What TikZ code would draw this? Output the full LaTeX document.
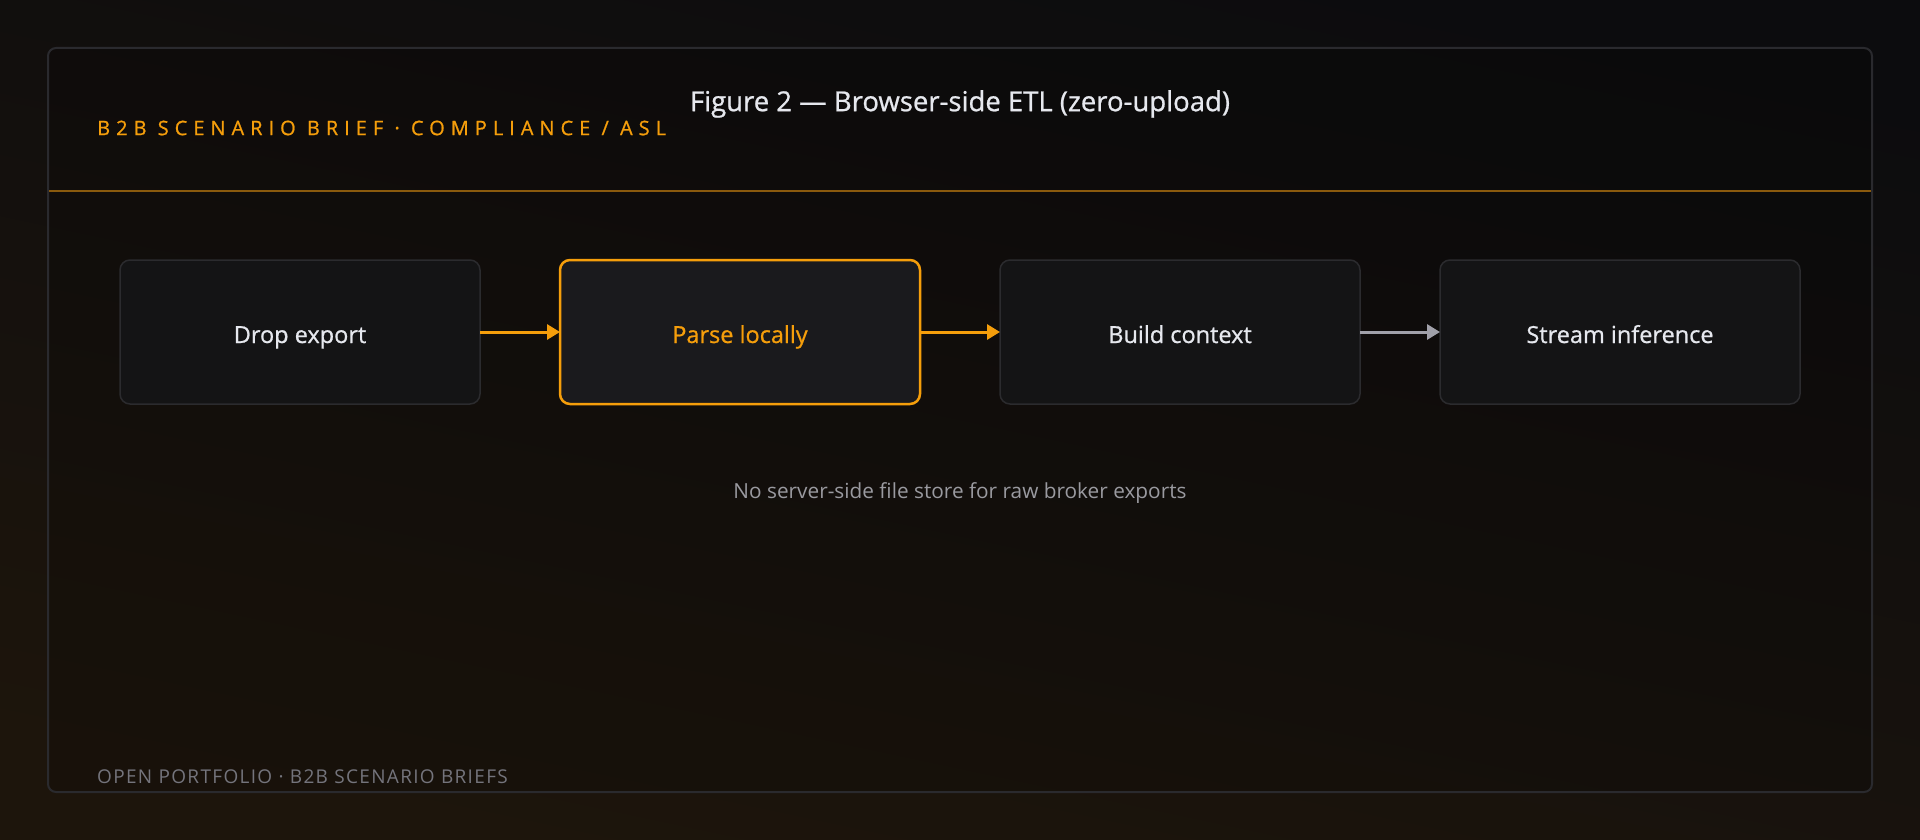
\documentclass[tikz,border=0pt]{standalone}
\usepackage{fontspec}
\setmainfont{Open Sans}
\newfontfamily\semifont[FakeBold=0.8]{Open Sans}
\newfontfamily\trackedfont[LetterSpace=30, FakeBold=0.8]{Open Sans}
\newfontfamily\footfont[LetterSpace=7]{Open Sans}
\usetikzlibrary{arrows.meta, positioning, shadings}
\definecolor{bgTop}{HTML}{0C0C0E}
\definecolor{bgBot}{HTML}{1D150C}
\definecolor{frameLine}{HTML}{2A2A2E}
\definecolor{accent}{HTML}{F59E0B}
\definecolor{sepLine}{HTML}{8A5A0E}
\definecolor{boxFill}{HTML}{141415}
\definecolor{hotFill}{HTML}{1A1A1D}
\definecolor{boxLine}{HTML}{2B2B2E}
\definecolor{labelText}{HTML}{E6E8EE}
\definecolor{arrowGrey}{HTML}{A1A1AA}
\definecolor{noteText}{HTML}{9A9AA0}
\definecolor{footText}{HTML}{74747C}

\begin{document}
\begin{tikzpicture}[x=1pt, y=-1pt,
  stage/.style={draw=boxLine, line width=1.5pt, fill=boxFill, rounded corners=10pt,
    minimum width=\boxW pt, minimum height=\boxH pt, inner sep=0pt, outer sep=0pt,
    text height=22pt, text depth=0pt,
    text=labelText, font=\semifont\fontsize{23.5}{27}\selectfont},
  hot/.style={draw=accent, line width=2.5pt, fill=hotFill, text=accent},
  flow/.style={line width=3pt, -{Triangle[length=13pt, width=15pt]}}]
\pgfmathsetmacro{\boxW}{360}
\pgfmathsetmacro{\boxH}{144}
\pgfmathsetmacro{\boxGap}{80}

% Draw background and frame
\useasboundingbox (0,0) rectangle (1920,840);
\shade[top color=bgTop, bottom color=bgBot, shading angle=-12] (0,0) rectangle (1920,840);
\draw[frameLine, line width=2pt, rounded corners=8pt, fill=black, fill opacity=0.15] (48,48) rectangle (1872,792);
\draw[sepLine, line width=1.5pt] (49,191) -- (1871,191);

% Header
\node[anchor=west, inner sep=0pt, text=accent, font=\trackedfont\fontsize{20}{24}\selectfont] (brief) at (97,128) {B2B SCENARIO BRIEF · COMPLIANCE / ASL};
\node[inner sep=0pt, text=labelText, font=\semifont\fontsize{27.5}{31}\selectfont] (title) at (960,104) {Figure 2 — Browser-side ETL (zero-upload)};

% Draw stages
\node[stage] (drop) at (300,332) {Drop export};
\node[stage, hot, right=\boxGap pt of drop] (parse) {Parse locally};
\node[stage, right=\boxGap pt of parse] (context) {Build context};
\node[stage, right=\boxGap pt of context] (stream) {Stream inference};

% Draw arrows
\draw[flow, accent] (drop) -- (parse);
\draw[flow, accent] (parse) -- (context);
\draw[flow, arrowGrey] (context) -- (stream);

% Notes
\node[inner sep=0pt, text=noteText, font=\fontsize{20.8}{24}\selectfont] (note) at (960,493) {No server-side file store for raw broker exports};
\node[anchor=west, inner sep=0pt, text=footText, font=\footfont\fontsize{19}{22}\selectfont] (footer) at (97,777) {OPEN PORTFOLIO · B2B SCENARIO BRIEFS};
\end{tikzpicture}
\end{document}
